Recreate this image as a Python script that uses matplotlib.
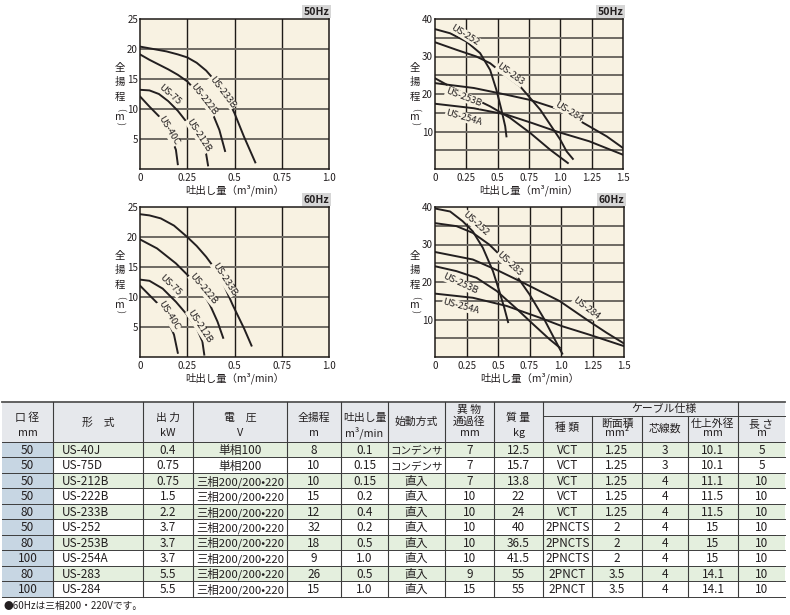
import matplotlib
matplotlib.use('Agg')
import matplotlib.pyplot as plt
from matplotlib.patches import Rectangle

plt.rcParams['font.family'] = ['Noto Sans CJK JP', 'DejaVu Sans']

W, H = 790, 615
BG = '#f8f2e2'
INK = '#231f20'

# --- pump curves: flow (m3/min) vs total head (m) ---
small_50 = {
    'US-233B': ([0, 0.07, 0.14, 0.2, 0.25, 0.3, 0.35, 0.4, 0.45, 0.5, 0.55, 0.61],
                [20.4, 20.0, 19.6, 19.1, 18.6, 17.7, 16.4, 14.6, 12.6, 9.3, 5.4, 1.1]),
    'US-222B': ([0, 0.05, 0.1, 0.15, 0.2, 0.25, 0.3, 0.35, 0.39, 0.42, 0.45],
                [19.1, 18.2, 17.4, 16.6, 15.7, 14.6, 12.9, 10.9, 8.8, 6.5, 3.0]),
    'US-75': ([0, 0.05, 0.1, 0.15, 0.2, 0.25, 0.3, 0.33, 0.35, 0.36],
              [13.2, 13.1, 12.5, 11.3, 9.7, 7.7, 5.6, 3.9, 2.5, 0.6]),
    'US-40C': ([0, 0.05, 0.1, 0.14, 0.17, 0.19, 0.2],
               [12.1, 10.4, 8.8, 6.8, 4.8, 3.2, 0.8]),
}
small_60 = {
    'US-233B': ([0, 0.05, 0.11, 0.18, 0.25, 0.3, 0.35, 0.42, 0.49, 0.55, 0.59],
                [23.8, 23.6, 23.1, 21.9, 20.0, 18.5, 16.7, 13.7, 8.7, 4.8, 1.9]),
    'US-222B': ([0, 0.09, 0.19, 0.26, 0.32, 0.37, 0.41, 0.44],
                [19.6, 18.1, 15.6, 13.4, 11.4, 8.7, 5.9, 3.2]),
    'US-75': ([0, 0.05, 0.12, 0.19, 0.25, 0.3, 0.33, 0.34],
              [12.9, 12.7, 11.4, 9.2, 7.0, 4.8, 2.6, 0.4]),
    'US-40C': ([0, 0.05, 0.11, 0.15, 0.18, 0.2],
               [11.9, 10.3, 8.4, 5.9, 3.7, 0.7]),
}
large_50 = {
    'US-252': ([0, 0.12, 0.25, 0.36, 0.44, 0.49, 0.53, 0.56, 0.57],
               [37.3, 36.2, 34.0, 30.9, 26.4, 21.1, 15.8, 11.4, 8.7]),
    'US-283': ([0, 0.17, 0.33, 0.44, 0.54, 0.68, 0.76, 0.84, 0.92, 1.0, 1.05, 1.1],
               [33.8, 31.8, 30.0, 28.2, 25.5, 22.0, 18.9, 15.8, 11.8, 7.8, 4.7, 2.7]),
    'US-284': ([0, 0.31, 0.57, 0.76, 1.0, 1.23, 1.37, 1.5],
               [22.9, 21.6, 19.8, 18.4, 15.8, 11.4, 8.7, 5.6]),
    'US-253B': ([0, 0.12, 0.28, 0.44, 0.6, 0.76, 0.92, 1.06],
                [24.2, 22.0, 19.3, 16.7, 13.6, 9.6, 5.1, 1.6]),
    'US-254A': ([0, 0.31, 0.57, 0.78, 0.97, 1.23, 1.5],
                [17.4, 16.2, 14.5, 12.2, 10.0, 7.4, 3.8]),
}
large_60 = {
    'US-252': ([0, 0.12, 0.22, 0.3, 0.38, 0.46, 0.51, 0.55, 0.58],
               [39.6, 38.8, 36.2, 33.5, 29.1, 22.9, 17.6, 13.1, 9.3]),
    'US-283': ([0, 0.17, 0.3, 0.43, 0.54, 0.64, 0.75, 0.86, 0.93, 1.01],
               [35.7, 34.9, 33.1, 30.0, 26.4, 22.0, 16.7, 10.5, 6.0, 0.9]),
    'US-284': ([0, 0.3, 0.51, 0.7, 0.99, 1.22, 1.36, 1.5],
               [28.0, 26.0, 22.9, 19.8, 14.9, 9.6, 6.5, 3.6]),
    'US-253B': ([0, 0.17, 0.33, 0.49, 0.64, 0.78, 0.91, 0.99],
                [24.2, 22.9, 21.1, 17.6, 13.1, 8.7, 4.7, 2.5]),
    'US-254A': ([0, 0.3, 0.57, 0.83, 1.01, 1.22, 1.5],
                [16.9, 15.8, 13.6, 10.5, 8.2, 6.0, 2.9]),
}

# curve labels: (text, x, y, rotation)
labels_small_50 = [('US-233B', 0.437, 12.8, -53), ('US-222B', 0.339, 11.6, -52),
                   ('US-75', 0.159, 12.4, -41), ('US-212B', 0.31, 5.6, -57),
                   ('US-40C', 0.15, 6.4, -59)]
labels_small_60 = [('US-233B', 0.445, 13.0, -57), ('US-222B', 0.335, 11.3, -50),
                   ('US-75', 0.162, 11.9, -44), ('US-212B', 0.315, 5.1, -57),
                   ('US-40C', 0.15, 6.9, -58)]
labels_large_50 = [('US-252', 0.24, 35.8, -32), ('US-283', 0.6, 25.2, -36),
                   ('US-284', 1.07, 15.3, -31), ('US-253B', 0.23, 19.2, -21),
                   ('US-254A', 0.23, 13.8, -16)]
labels_large_60 = [('US-252', 0.32, 35.5, -42), ('US-283', 0.59, 24.8, -43),
                   ('US-284', 1.2, 12.9, -37), ('US-253B', 0.2, 19.6, -25),
                   ('US-254A', 0.205, 13.6, -15)]

# --- spec table ---
bore = ['50', '50', '50', '50', '80', '50', '80', '100', '80', '100']
model = ['US-40J', 'US-75D', 'US-212B', 'US-222B', 'US-233B',
         'US-252', 'US-253B', 'US-254A', 'US-283', 'US-284']
power = ['0.4', '0.75', '0.75', '1.5', '2.2', '3.7', '3.7', '3.7', '5.5', '5.5']
voltage = ['単相100', '単相200'] + ['三相200/200•220'] * 8
head = ['8', '10', '10', '15', '12', '32', '18', '9', '26', '15']
flow = ['0.1', '0.15', '0.15', '0.2', '0.4', '0.2', '0.5', '1.0', '0.5', '1.0']
start = ['コンデンサ', 'コンデンサ'] + ['直入'] * 8
solid = ['7', '7', '7', '10', '10', '10', '10', '10', '9', '15']
mass = ['12.5', '15.7', '13.8', '22', '24', '40', '36.5', '41.5', '55', '55']
cable = ['VCT'] * 5 + ['2PNCTS'] * 3 + ['2PNCT'] * 2
area = ['1.25'] * 5 + ['2'] * 3 + ['3.5'] * 2
cores = ['3', '3', '4', '4', '4', '4', '4', '4', '4', '4']
outer = ['10.1', '10.1', '11.1', '11.5', '11.5', '15', '15', '15', '14.1', '14.1']
length = ['5', '5', '10', '10', '10', '10', '10', '10', '10', '10']

fig = plt.figure(figsize=(W / 100, H / 100), dpi=100)
page = fig.add_axes([0, 0, 1, 1])
page.set_xlim(0, W)
page.set_ylim(H, 0)
page.axis('off')


def chart(x0, y0, w, h, curves, labels, xmax, ymax, hz):
    ax = fig.add_axes([x0 / W, 1 - (y0 + h) / H, w / W, h / H])
    ax.set_facecolor(BG)
    ax.set_xlim(0, xmax)
    ax.set_ylim(0, ymax)
    xt = [i * 0.25 for i in range(int(xmax / 0.25) + 1)]
    ax.set_xticks(xt)
    ax.set_xticklabels(['0' if v == 0 else ('%.2f' % v).rstrip('0') if v % 0.5 else '%.1f' % v
                        for v in xt])
    yt = list(range(5, ymax + 1, 5))
    ax.set_yticks(yt)
    step = 5 if ymax <= 25 else 10
    ax.set_yticklabels([str(v) if v % step == 0 else '' for v in yt])
    ax.tick_params(length=0, labelsize=7, colors=INK)
    ax.tick_params(axis='y', pad=1.5)
    ax.tick_params(axis='x', pad=3)
    for v in xt[1:-1]:
        ax.axvline(v, color='#1e1a17', lw=1.0, zorder=1)
    for v in yt[:-1]:
        ax.axhline(v, color='#6e6a63', lw=1.4, zorder=1)
    for s in ax.spines.values():
        s.set_color('#1e1a17')
        s.set_linewidth(1.1)
    for name, (q, hd) in curves.items():
        ax.plot(q, hd, color=INK, lw=1.4, zorder=2)
    for txt, lx, ly, rot in labels:
        ax.text(lx, ly, txt, rotation=rot, rotation_mode='anchor', ha='center',
                va='center', fontsize=6.8, color=INK, zorder=3,
                bbox=dict(boxstyle='square,pad=0.05', fc=BG, ec='none'))
    ax.set_xlabel('吐出し量（m³/min）', fontsize=7.5, color=INK, labelpad=1)
    ax.text(1.0, 1.015, hz, transform=ax.transAxes, ha='right', va='bottom',
            fontsize=7.5, fontweight='bold', color=INK,
            bbox=dict(boxstyle='square,pad=0.15', fc='#d6d6d6', ec='none'))
    # stacked vertical axis title
    lx = x0 - 20
    for k, ch in enumerate(['全', '揚', '程']):
        page.text(lx, y0 + 49 + 14.5 * k, ch, ha='center', va='center',
                  fontsize=7.5, color=INK)
    page.text(lx, y0 + 90, '(', rotation=-90, ha='center', va='center',
              fontsize=6.5, color=INK)
    page.text(lx, y0 + 97.5, 'm', ha='center', va='center', fontsize=7.5, color=INK)
    page.text(lx, y0 + 105, ')', rotation=-90, ha='center', va='center',
              fontsize=6.5, color=INK)
    return ax


chart(140, 19, 189, 150, small_50, labels_small_50, 1.0, 25, '50Hz')
chart(435, 19, 188, 150, large_50, labels_large_50, 1.5, 40, '50Hz')
chart(140, 207, 189, 150, small_60, labels_small_60, 1.0, 25, '60Hz')
chart(435, 207, 189, 150, large_60, labels_large_60, 1.5, 40, '60Hz')

# --- table drawing ---
edges = [2, 53, 143, 193, 287, 341, 388, 445, 494, 543, 592, 642, 688, 738, 785]
top, hbot, rh = 402, 442, 15.45
nrows = len(model)
bottom = hbot + rh * nrows
LINE = '#3c3c3c'

page.add_patch(Rectangle((edges[0], top), edges[-1] - edges[0], hbot - top,
                         fc='#e6e8ec', ec='none'))
for i in range(nrows):
    y = hbot + rh * i
    fc = '#e4efde' if i % 2 == 0 else 'white'
    page.add_patch(Rectangle((edges[1], y), edges[-1] - edges[1], rh, fc=fc, ec='none'))
    page.add_patch(Rectangle((edges[0], y), edges[1] - edges[0], rh, fc='#c7d6e3', ec='none'))

page.plot([edges[0], edges[-1]], [top, top], color='#555555', lw=1.3)
for i in range(nrows + 1):
    y = hbot + rh * i
    page.plot([edges[0], edges[-1]], [y, y], color=LINE, lw=0.7)
for x in edges[1:-1]:
    y_start = 416 if x in edges[10:13] else top
    page.plot([x, x], [y_start, bottom], color=LINE, lw=0.8)
page.plot([edges[9], edges[-1]], [416, 416], color=LINE, lw=0.7)

HF = 7.8


def center(c):
    return (edges[c] + edges[c + 1]) / 2


def head_cell(c, lines, ys):
    for t, y in zip(lines, ys):
        page.text(center(c), y, t, ha='center', va='center', fontsize=HF, color=INK)


head_cell(0, ['口 径', 'mm'], [418, 433])
head_cell(1, ['形　式'], [423])
head_cell(2, ['出 力', 'kW'], [418, 433])
head_cell(3, ['電　圧', 'V'], [418, 433])
head_cell(4, ['全揚程', 'm'], [418, 433])
head_cell(5, ['吐出し量', 'm³/min'], [418, 433])
head_cell(6, ['始動方式'], [422])
head_cell(7, ['異 物', '通過径', 'mm'], [410, 422, 433])
head_cell(8, ['質 量', 'kg'], [418, 433])
page.text((edges[9] + edges[-1]) / 2, 409, 'ケーブル仕様', ha='center', va='center',
          fontsize=HF, color=INK)
head_cell(9, ['種 類'], [428])
head_cell(10, ['断面積', 'mm²'], [424, 433])
head_cell(11, ['芯線数'], [428])
head_cell(12, ['仕上外径', 'mm'], [424, 433])
head_cell(13, ['長 さ', 'm'], [424, 433])

columns = [bore, model, power, voltage, head, flow, start, solid, mass,
           cable, area, cores, outer, length]
for c, col in enumerate(columns):
    for i, val in enumerate(col):
        y = hbot + rh * (i + 0.55)
        fs = 8.5
        if c == 6 and len(val) > 2:
            fs = 7.6
        if c == 3 and len(val) > 6:
            fs = 8.2
        if c == 1:
            page.text(edges[1] + 9, y, val, ha='left', va='center', fontsize=fs, color=INK)
        else:
            page.text(center(c), y, val, ha='center', va='center', fontsize=fs, color=INK)

page.text(3, 606, '●60Hzは三相200・220Vです。', ha='left', va='center',
          fontsize=7, color=INK)

fig.savefig('out.png', dpi=100)
